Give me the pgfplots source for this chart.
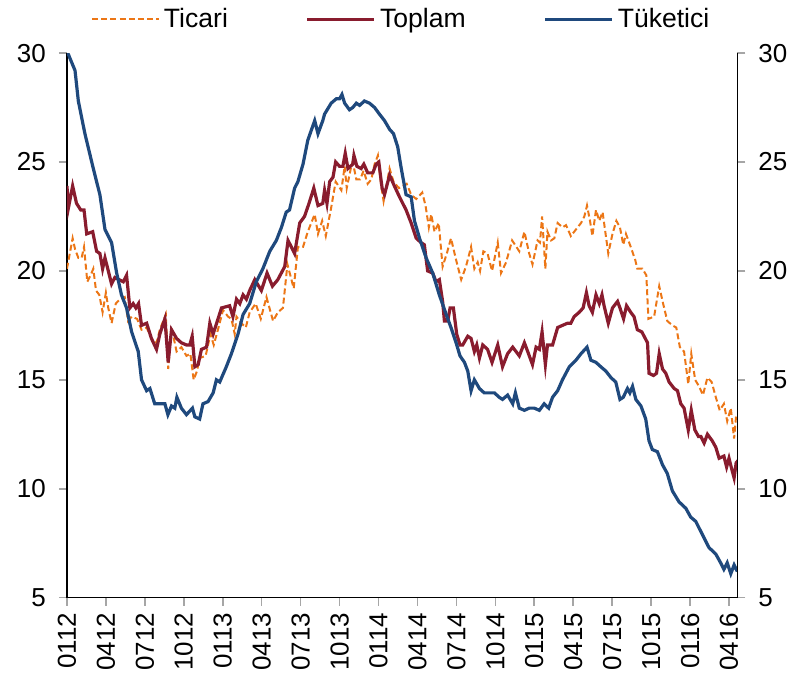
\documentclass[border=0pt]{standalone}
\usepackage{fontspec}
\setmainfont{Liberation Sans}
\usepackage{pgfplots}
\pgfplotsset{compat=1.18}
\usepackage{pgfplotstable}
\definecolor{ticari}{RGB}{236,118,22}
\definecolor{toplam}{RGB}{137,28,46}
\definecolor{tuketici}{RGB}{31,73,125}

\pgfplotstableread{
w v
0 30.1
2.7 29.2
3.8 27.8
6 26.3
8.8 24.7
11 23.5
12.7 21.9
14.9 21.3
16.6 19.9
18.2 18.9
19.9 18.3
21.6 17.2
23.8 16.3
24.9 15.0
26.6 14.5
27.7 14.6
29.3 13.9
32.7 13.9
33.7 13.4
34.9 13.8
36 13.7
36.7 14.2
38.2 13.7
39.9 13.4
41.9 13.7
42.7 13.3
44.3 13.2
45.4 13.9
47.1 14.0
48.8 14.4
49.9 15.0
51 14.9
53.2 15.6
54.9 16.2
57.1 17.1
58.8 18.0
61 18.5
63.2 19.5
65.4 20.1
67.7 20.9
69.9 21.4
71.6 22.0
73.2 22.7
74.3 22.8
76 23.8
77.1 24.1
78.8 24.9
80.4 26.0
82.7 26.9
83.8 26.3
85.4 26.9
86 27.2
88.2 27.7
89.9 27.9
91 27.9
91.8 28.1
92.7 27.7
94.3 27.4
95.4 27.5
96.6 27.7
97.7 27.6
99.3 27.8
101 27.7
102.7 27.5
104.3 27.2
106 26.9
107.7 26.5
109 26.3
110.4 25.7
111.6 24.7
113.2 23.5
114.9 23.4
116 22.3
117.7 21.5
119.9 20.6
122.1 19.9
124.3 18.9
126.6 18.0
128.2 17.4
129.9 16.7
131.2 16.1
132.7 15.8
133.8 15.4
134.9 14.5
136 15.0
137.7 14.6
139.3 14.4
142.7 14.4
144.3 14.2
145.4 14.1
147.1 14.3
148.8 13.9
149.7 14.4
151 13.7
152.7 13.6
154.3 13.7
156 13.7
157.7 13.6
159.3 13.9
160.8 13.7
162.1 14.2
163.8 14.5
165.4 15.0
167.7 15.6
169.9 15.9
171.6 16.2
173.6 16.5
174.9 15.9
176.6 15.8
178.2 15.6
179.9 15.4
181.6 15.1
183.2 14.9
184.6 14.1
185.7 14.2
187.1 14.6
187.9 14.4
188.8 14.7
189.9 14.1
191.6 13.8
193.2 13.2
194.3 12.2
195.4 11.8
197.1 11.7
198.8 11.1
200.4 10.7
202.1 9.9
204.3 9.4
206.6 9.1
208.2 8.7
209.9 8.5
212.1 7.9
214.3 7.3
216.6 7.0
218.2 6.6
219.3 6.3
220.4 6.6
221.6 6.1
222.7 6.5
223.8 6.2
}\tuketici

\pgfplotstableread{
w v
0 23.9
0.5 22.9
1.9 23.9
3.2 23.1
4.6 22.8
5.7 22.8
6.6 21.7
8.6 21.8
9.9 20.9
11 20.8
11.9 20.1
12.7 20.6
14.9 19.4
16 19.7
17.4 19.6
18.8 19.5
19.9 19.8
21 18.3
22.1 18.5
23 18.3
23.9 18.5
24.9 17.5
26.6 17.6
28.2 16.9
29.9 16.4
31 17.1
32.7 17.8
33.8 15.8
34.9 17.3
36.6 16.9
38.2 16.7
39.9 16.6
41 16.6
41.8 17.0
42.7 15.6
43.8 15.7
44.9 16.4
46.6 16.5
47.7 17.6
48.8 17.1
51.6 18.3
54.3 18.4
55.4 17.9
56.6 18.7
57.7 18.5
58.8 18.9
59.9 18.7
61 19.1
62.7 19.6
64.9 19.1
66.8 19.9
68.6 19.3
70.4 19.6
72.7 20.2
73.8 21.4
76 20.8
77.7 22.2
79.3 22.5
80.8 23.1
82.4 23.8
83.8 23.0
85.4 23.1
86 23.7
86.8 23.1
87.7 24.1
88.8 24.3
89.7 25.0
91 24.8
92.1 24.8
92.9 25.4
93.8 24.7
95.4 24.9
95.8 25.3
96.8 24.8
98.2 24.7
99.1 24.9
100.4 24.5
102.1 24.5
103.2 24.9
104.1 25.0
105.2 23.8
106 23.5
107.7 24.4
109.3 23.9
111 23.4
113.2 22.8
114.9 22.2
116.6 21.5
118.2 21.3
119.3 21.2
120.4 20.0
122.1 19.9
123.2 19.5
124.3 19.6
125.4 18.6
126 17.7
127.1 17.7
127.9 18.3
129 18.3
130.1 17.1
131.2 16.6
132.1 16.6
133.8 17.0
134.9 16.9
136 16.3
136.8 16.6
137.7 16.0
138.8 16.6
140.4 16.4
141.9 15.8
143.8 16.6
145.4 15.6
147.1 16.2
148.8 16.5
151 16.1
152.7 16.7
153.8 16.3
155.4 15.7
156.6 16.5
157.7 16.4
158.6 17.2
159.7 15.7
160.4 16.6
162.1 16.6
163.8 17.4
165.4 17.5
167.1 17.6
168.2 17.6
169.3 17.9
171 18.1
172.3 18.3
173.4 19.0
174.3 18.4
175.4 18.1
176.6 18.9
177.7 18.5
178.6 18.9
179.3 18.4
180.7 17.6
182.1 18.3
183.8 18.6
184.6 18.3
185.8 17.8
186.8 18.4
188.2 18.1
189.3 17.9
190.4 17.3
191.9 17.2
193.8 16.7
194.3 15.3
195.8 15.2
196.8 15.3
197.7 16.2
198.8 15.5
199.9 15.3
201 14.9
202.7 14.6
203.8 14.5
204.9 13.9
206 13.7
207.4 12.7
208.4 13.6
209.6 12.7
210.8 12.4
211.6 12.4
212.7 12.1
213.8 12.5
215.4 12.2
216.6 11.9
217.7 11.4
219.3 11.5
220.2 11.0
221 11.4
222.1 10.8
222.7 10.5
223.4 11.2
224.1 11.3
}\toplam

\pgfplotstableread{
w v
0 20.1
1.9 21.5
2.7 21.0
3.8 20.6
4.9 20.6
5.7 21.1
6.8 19.5
7.9 19.8
8.8 20.1
9.7 19.1
10.8 18.9
11.9 18.1
13 19.0
13.8 18.3
14.9 17.6
16.3 18.5
17.7 18.7
19.3 18.8
20.4 17.7
21.6 17.9
23.4 17.8
24.9 17.3
26.6 17.4
28.2 16.9
29.9 16.7
31 17.3
33 18.0
33.8 15.5
34.9 17.4
36.6 16.3
38.2 16.5
39.9 16.1
41.2 16.2
42.3 15.0
43.4 15.4
44.3 16.0
46.3 16.1
47.9 17.1
49 16.6
50.4 17.3
52.1 18.2
53.8 17.9
54.9 17.8
56 17.1
56.6 17.9
58.2 17.6
59.7 17.4
61 18.1
63 18.5
64.7 17.8
66.6 18.8
68.8 17.7
70.4 18.1
72.1 18.3
73.6 20.3
75.7 19.2
77.1 21.1
78.8 21.1
80.4 21.8
82.7 22.6
83.8 21.7
85.2 22.3
86.4 21.6
88.2 22.9
89.7 24.1
91.6 23.7
92.7 24.8
93.4 23.8
94.9 24.8
95.4 25.0
96.6 24.2
97.9 24.2
99 24.6
100.4 24.0
101.6 24.2
102.7 24.9
103.8 25.3
104.9 23.9
105.7 23.2
107.7 24.7
109 24.1
110.8 23.8
112.1 23.9
113.4 24.0
114.9 23.5
116.6 23.3
118.6 23.6
119.7 23.0
120.8 22.0
121.6 22.6
122.7 21.8
124.1 22.2
125.4 20.2
126.8 20.8
128.2 21.5
129.9 20.5
131.6 19.6
133.2 20.2
134.9 21.1
136 20.1
137.1 20.4
137.9 20.0
139 20.9
140.4 20.8
141.9 20.0
143.8 21.3
144.9 19.9
146.6 20.4
148.6 21.4
151 20.9
152.7 21.8
154.3 20.8
155.4 20.3
157.1 21.4
157.9 21.3
158.6 22.5
159.7 20.1
160.4 21.8
161.6 21.4
162.7 21.5
163.8 22.2
165.4 22.0
166.6 22.1
168.2 21.6
169.9 21.9
171.6 22.2
172.7 22.5
173.6 23.0
174.6 22.3
175.4 21.6
176.6 22.8
177.7 22.3
178.8 22.7
179.7 21.8
180.7 20.8
182.1 21.7
183.4 22.3
184.6 22.0
185.7 21.2
186.6 21.7
188.2 21.1
189.7 20.5
190.4 20.1
192.1 20.1
193.4 19.8
194.1 17.8
196 17.9
197.7 19.3
199 18.5
200.4 17.7
202.1 17.5
203.4 17.4
204.6 16.5
206 16.3
207.4 14.8
208.4 16.2
209.7 15.0
211 14.7
212.3 14.3
213.8 15.1
215.2 14.9
216.6 14.2
217.9 13.6
219.3 13.9
220.4 13.1
221.6 13.7
222.7 12.3
223.4 13.4
}\ticari

\begin{document}
\begin{tikzpicture}
\begin{axis}[
  name=main,
  scale only axis,
  width=335.5pt, height=272.5pt,
  xmin=0, xmax=223.8,
  ymin=5, ymax=30,
  axis x line*=bottom,
  axis y line*=left,
  axis line style={black, line width=0.7pt},
  tick align=outside,
  major tick length=4pt,
  tick style={gray!70, line width=0.8pt},
  ytick={5,10,...,30},
  xtick={0,13,...,221},
  xticklabels={0112,0412,0712,1012,0113,0413,0713,1013,0114,0414,0714,1014,0115,0415,0715,1015,0116,0416},
  x tick label style={rotate=90, anchor=east, font=\fontsize{13}{13}\selectfont},
  y tick label style={font=\fontsize{13}{13}\selectfont, xshift=-3pt},
  /pgf/number format/assume math mode=true,
  clip=true,
  legend columns=3,
  legend style={draw=none, fill=none, at={(0.5,1.0624)}, anchor=center,
    font=\fontsize{13.3}{14}\selectfont,
    /tikz/every even column/.append style={column sep=37pt}},
  legend image code/.code={\draw[#1] (0pt,0pt) -- (33.5pt,0pt);},
]
\addplot[ticari, line width=1pt, dash pattern=on 3pt off 1.6pt] table[x=w,y=v] {\ticari};
\addlegendentry{Ticari}
\addplot[toplam, line width=1.6pt] table[x=w,y=v] {\toplam};
\addlegendentry{Toplam}
\addplot[tuketici, line width=1.6pt] table[x=w,y=v] {\tuketici};
\addlegendentry{Tüketici}
\end{axis}
\begin{axis}[
  at={(main.south west)}, anchor=south west,
  scale only axis,
  width=335.5pt, height=272.5pt,
  xmin=0, xmax=223.8,
  ymin=5, ymax=30,
  axis y line*=right,
  axis x line=none,
  axis line style={black, line width=0.7pt},
  tick align=outside,
  major tick length=4pt,
  tick style={gray!70, line width=0.8pt},
  ytick={5,10,...,30},
  y tick label style={font=\fontsize{13}{13}\selectfont, xshift=3pt},
  /pgf/number format/assume math mode=true,
]
\addplot[draw=none] coordinates {(0,5)};
\end{axis}
\path (main.south west) ++(-33.5pt,-40.5pt) coordinate (bl);
\path (main.north east) ++(28pt,26pt) coordinate (tr);
\path (bl) rectangle (tr);
\end{tikzpicture}
\end{document}
